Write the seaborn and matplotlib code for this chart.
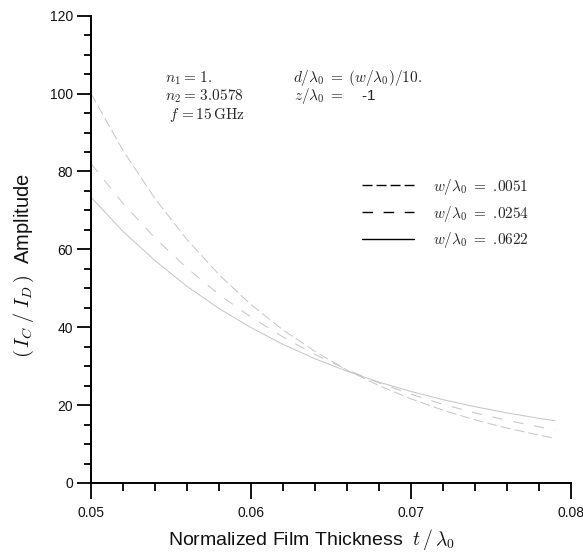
import matplotlib
matplotlib.use("Agg")
import matplotlib.pyplot as plt
from matplotlib.lines import Line2D
from matplotlib.ticker import MultipleLocator
import pandas as pd
import seaborn as sns

# Normalized film thickness t/lambda0
thickness = [0.050, 0.052, 0.054, 0.056, 0.058, 0.060, 0.062, 0.064,
             0.066, 0.068, 0.070, 0.072, 0.074, 0.076, 0.078, 0.079]

# (I_C / I_D) amplitude for each strip width w/lambda0
amp_w0051 = [100.0, 85.4, 73.0, 62.5, 53.5, 45.8, 39.3, 33.8,
             29.0, 25.0, 21.6, 18.7, 16.2, 14.1, 12.3, 11.5]
amp_w0254 = [82.0, 71.8, 62.9, 55.2, 48.4, 42.6, 37.5, 33.0,
             29.1, 25.7, 22.8, 20.2, 18.0, 16.1, 14.4, 13.6]
amp_w0622 = [73.4, 64.6, 57.1, 50.5, 44.8, 39.9, 35.6, 31.9,
             28.7, 25.9, 23.5, 21.4, 19.6, 18.0, 16.6, 16.0]

series_labels = [r"$w/\lambda_0\;=$ .0051",
                 r"$w/\lambda_0\;=$ .0254",
                 r"$w/\lambda_0\;=$ .0622"]

x_ticks = [0.05, 0.06, 0.07, 0.08]
x_tick_labels = ["0.05", "0.06", "0.07", "0.08"]
y_ticks = [0, 20, 40, 60, 80, 100, 120]

sns.set_theme(style="ticks")
plt.rcParams["font.family"] = ["Liberation Sans", "DejaVu Sans"]
plt.rcParams["mathtext.fontset"] = "cm"
plt.rcParams["lines.scale_dashes"] = False

fig = plt.figure(figsize=(5.83, 5.60), dpi=100)
ax = fig.add_axes([0.1561, 0.1375, 0.8233, 0.8345])

line_styles = [(0, (7.2, 2.9)), (0, (7.6, 7.6)), "-"]
all_amps = [amp_w0051, amp_w0254, amp_w0622]

for amps, ls in zip(all_amps, line_styles):
    df = pd.DataFrame({"t": thickness, "amp": amps})
    sns.lineplot(data=df, x="t", y="amp", ax=ax, color="#c4c4c4",
                 linewidth=0.7, estimator=None, sort=True)
    ax.lines[-1].set_linestyle(ls)

ax.set_xlim(0.05, 0.08)
ax.set_ylim(0, 120)

ax.set_xticks(x_ticks)
ax.set_xticklabels(x_tick_labels)
ax.set_yticks(y_ticks)
ax.xaxis.set_minor_locator(MultipleLocator(0.002))
ax.yaxis.set_minor_locator(MultipleLocator(5))

for side in ["top", "right"]:
    ax.spines[side].set_visible(False)
for side in ["left", "bottom"]:
    ax.spines[side].set_color("black")
    ax.spines[side].set_linewidth(1.4)

ax.tick_params(axis="x", which="major", direction="out", length=11.5,
               width=1.3, color="black", labelsize=10, pad=5,
               labelcolor="#111111")
ax.tick_params(axis="x", which="minor", direction="out", length=6,
               width=1.3, color="black", bottom=True)
ax.tick_params(axis="y", which="major", direction="out", length=10,
               width=1.3, color="black", labelsize=10, pad=3,
               labelcolor="#111111")
ax.tick_params(axis="y", which="minor", direction="out", length=5,
               width=1.3, color="black", left=True)

ax.set_xlabel(r"Normalized Film Thickness  $t\,/\,\lambda_0$", fontsize=14,
              color="#111111")
ax.xaxis.set_label_coords(0.46, -0.095)
ax.set_ylabel(r"$(\,I_C\;/\;I_D\,)$  Amplitude", fontsize=14.5,
              color="#111111")
ax.yaxis.set_label_coords(-0.115, 0.465)

# Simulation parameters
ax.text(0.0546, 104, r"$n_1 = \,1.$", fontsize=11, va="center", ha="left")
ax.text(0.0546, 99.3, r"$n_2 = \,3.0578$", fontsize=11, va="center", ha="left")
ax.text(0.0549, 94.6, r"$f\, = 15\,\mathrm{GHz}$", fontsize=11,
        va="center", ha="left")
ax.text(0.0626, 104, r"$d/\lambda_0 \;=\; (w/\lambda_0)/10.$", fontsize=11,
        va="center", ha="left")
ax.text(0.0627, 99.3, r"$z/\lambda_0 \;=\;$   -1", fontsize=11,
        va="center", ha="left")

handles = [Line2D([], [], color="black", linewidth=1.0, linestyle=ls)
           for ls in line_styles]
ax.legend(handles, series_labels, loc="upper left",
          bbox_to_anchor=(0.535, 0.685), frameon=False,
          prop={"family": "cmr10", "size": 11},
          handlelength=3.46, handletextpad=1.2, labelspacing=0.45)

fig.savefig("out.png", dpi=100)
